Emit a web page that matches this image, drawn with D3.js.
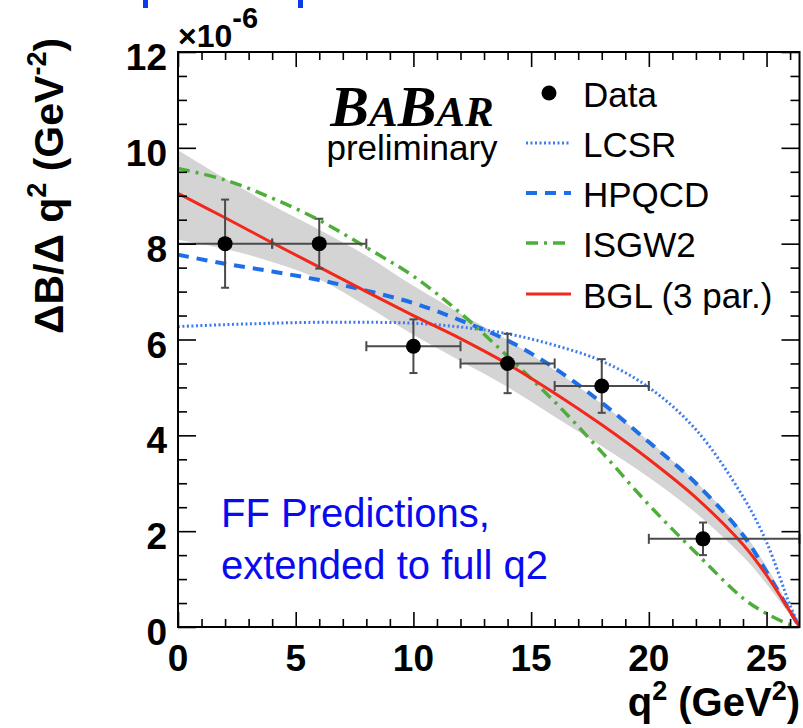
<!DOCTYPE html>
<html>
<head>
<meta charset="utf-8">
<script src="https://cdnjs.cloudflare.com/ajax/libs/d3/7.8.5/d3.min.js"></script>
<style>
  body { margin: 0; background: #fff; }
  svg { display: block; font-family: "Liberation Sans", Arial, Helvetica, sans-serif; }
</style>
</head>
<body>
<svg id="chart" width="803" height="728"></svg>
<script>
// measured data points (q2 bins, dB/dq2 in 1e-6 GeV^-2)
const binLo = [0, 4, 8, 12, 16, 20];
const binHi = [4, 8, 12, 16, 20, 26.4];
const dataQ2 = [2, 6, 10, 14, 18, 22.3];
const dataVal = [8.0, 8.0, 5.86, 5.5, 5.03, 1.84];
const dataErr = [0.92, 0.52, 0.56, 0.62, 0.56, 0.34];

// form factor curves at these q2 values
const q2Grid = [0, 2, 4, 6, 8, 10, 12, 14, 16, 18, 20, 22, 24, 25, 26, 26.4];
const lcsr  = [6.27, 6.31, 6.34, 6.36, 6.36, 6.34, 6.26, 6.12, 5.88, 5.55, 5.0, 4.12, 2.72, 1.77, 0.45, 0];
const hpqcd = [7.77, 7.58, 7.42, 7.24, 7.02, 6.76, 6.4, 5.98, 5.40, 4.68, 3.86, 3.0, 1.92, 1.15, 0.33, 0];
const isgw2 = [9.57, 9.33, 8.95, 8.49, 7.92, 7.32, 6.55, 5.65, 4.70, 3.65, 2.55, 1.55, 0.6, 0.28, 0.05, 0];
const bgl   = [9.05, 8.54, 8.02, 7.51, 7.0, 6.5, 6.02, 5.49, 4.88, 4.22, 3.5, 2.7, 1.72, 1.08, 0.32, 0];
const bglHi = [9.95, 9.36, 8.80, 8.29, 7.75, 7.12, 6.54, 5.99, 5.36, 4.66, 3.88, 3.03, 1.98, 1.26, 0.39, 0];
const bglLo = [8.08, 7.89, 7.62, 7.26, 6.70, 6.10, 5.55, 5.01, 4.39, 3.77, 3.12, 2.38, 1.47, 0.90, 0.25, 0];

const xTicks = [0, 5, 10, 15, 20, 25];
const yTicks = [0, 2, 4, 6, 8, 10, 12];
const legendLabels = ['Data', 'LCSR', 'HPQCD', 'ISGW2', 'BGL (3 par.)'];

const svg = d3.select('#chart');
const plot = { left: 178, right: 799.5, top: 52, bottom: 627 };

const x = d3.scaleLinear().domain([0, 26.4]).range([plot.left, plot.right]);
const y = d3.scaleLinear().domain([0, 12]).range([plot.bottom, plot.top]);

// blue slide fragments at the very top
svg.append('rect').attr('x', 143).attr('y', 0).attr('width', 5).attr('height', 8).attr('fill', '#0a3be8');
svg.append('rect').attr('x', 298).attr('y', 0).attr('width', 5).attr('height', 8).attr('fill', '#0a3be8');

svg.append('defs').append('clipPath').attr('id', 'clip')
  .append('rect')
  .attr('x', plot.left).attr('y', plot.top)
  .attr('width', plot.right - plot.left).attr('height', plot.bottom - plot.top);

const g = svg.append('g').attr('clip-path', 'url(#clip)');
const smooth = d3.curveCatmullRom.alpha(0.5);

// uncertainty band of the BGL fit
const band = q2Grid.map((q, i) => ({ q, lo: bglLo[i], hi: bglHi[i] }));
g.append('path')
  .datum(band)
  .attr('fill', '#d4d4d4')
  .attr('d', d3.area()
    .x(d => x(d.q))
    .y0(d => y(d.lo))
    .y1(d => y(d.hi))
    .curve(smooth));

const line = d3.line().x(d => x(d.q)).y(d => y(d.v)).curve(smooth);
const series = (vals) => q2Grid.map((q, i) => ({ q, v: vals[i] }));

const curves = [
  { vals: lcsr,  color: '#3d7bf0', width: 3,   dash: '2,2.5' },
  { vals: hpqcd, color: '#1d6fe8', width: 4,   dash: '11,8' },
  { vals: isgw2, color: '#4fae3a', width: 3.5, dash: '12,6,3,6' },
  { vals: bgl,   color: '#f2281c', width: 3,   dash: null }
];

curves.forEach(c => {
  g.append('path')
    .datum(series(c.vals))
    .attr('fill', 'none')
    .attr('stroke', c.color)
    .attr('stroke-width', c.width)
    .attr('stroke-dasharray', c.dash)
    .attr('d', line);
});

// data points with error bars
const errColor = '#4a4a4a';
const pts = dataQ2.map((q, i) => ({ q, v: dataVal[i], e: dataErr[i], lo: binLo[i], hi: binHi[i] }));
const pg = svg.append('g');
pts.forEach(d => {
  const cx = x(d.q), cy = y(d.v);
  pg.append('line').attr('x1', x(d.lo)).attr('x2', x(d.hi)).attr('y1', cy).attr('y2', cy)
    .attr('stroke', errColor).attr('stroke-width', 2);
  pg.append('line').attr('x1', cx).attr('x2', cx).attr('y1', y(d.v + d.e)).attr('y2', y(d.v - d.e))
    .attr('stroke', errColor).attr('stroke-width', 2);
  // caps
  [d.lo, d.hi].forEach(v => {
    pg.append('line').attr('x1', x(v)).attr('x2', x(v)).attr('y1', cy - 5).attr('y2', cy + 5)
      .attr('stroke', errColor).attr('stroke-width', 2);
  });
  [d.v + d.e, d.v - d.e].forEach(v => {
    pg.append('line').attr('x1', cx - 4).attr('x2', cx + 4).attr('y1', y(v)).attr('y2', y(v))
      .attr('stroke', errColor).attr('stroke-width', 2);
  });
  pg.append('circle').attr('cx', cx).attr('cy', cy).attr('r', 7.5).attr('fill', '#000');
});

// axes, ticks pointing inward on all four sides
const xMinor = d3.range(0, 27, 1).filter(v => v % 5 !== 0);
const yMinor = d3.range(0, 12.01, 0.5).filter(v => v % 2 !== 0);

function ticks(axis, values, size, transform) {
  const a = svg.append('g')
    .attr('transform', transform)
    .call(axis.tickValues(values).tickSize(-size).tickFormat(''));
  a.select('.domain').remove();
  a.selectAll('line').attr('stroke', '#000').attr('stroke-width', 1.6);
  return a;
}

ticks(d3.axisBottom(x), xTicks, 15, `translate(0,${plot.bottom})`);
ticks(d3.axisBottom(x), xMinor, 8, `translate(0,${plot.bottom})`);
ticks(d3.axisTop(x), xTicks, 15, `translate(0,${plot.top})`);
ticks(d3.axisTop(x), xMinor, 8, `translate(0,${plot.top})`);
ticks(d3.axisLeft(y), yTicks, 18, `translate(${plot.left},0)`);
ticks(d3.axisLeft(y), yMinor, 9, `translate(${plot.left},0)`);
ticks(d3.axisRight(y), yTicks, 18, `translate(${plot.right},0)`);
ticks(d3.axisRight(y), yMinor, 9, `translate(${plot.right},0)`);

svg.append('rect')
  .attr('x', plot.left).attr('y', plot.top)
  .attr('width', plot.right - plot.left).attr('height', plot.bottom - plot.top)
  .attr('fill', 'none').attr('stroke', '#000').attr('stroke-width', 2);

// tick labels
svg.append('g').selectAll('text').data(xTicks).join('text')
  .attr('x', d => x(d)).attr('y', plot.bottom + 44)
  .attr('text-anchor', 'middle')
  .attr('font-size', 37).attr('font-weight', 'bold')
  .text(d => d);

svg.append('g').selectAll('text').data(yTicks).join('text')
  .attr('x', plot.left - 11).attr('y', d => y(d) + 18)
  .attr('text-anchor', 'end')
  .attr('font-size', 37).attr('font-weight', 'bold')
  .text(d => d);

// exponent
const ex = svg.append('text').attr('x', plot.left).attr('y', 47)
  .attr('font-size', 32).attr('font-weight', 'bold');
ex.append('tspan').text('\u00d710');
ex.append('tspan').attr('dy', -19).attr('font-size', 29).text('-6');

// axis titles
const xt = svg.append('text').attr('x', 800).attr('y', 716)
  .attr('text-anchor', 'end').attr('font-size', 40).attr('font-weight', 'bold');
xt.append('tspan').text('q');
xt.append('tspan').attr('dy', -16).attr('font-size', 27).text('2');
xt.append('tspan').attr('dy', 16).text(' (GeV');
xt.append('tspan').attr('dy', -16).attr('font-size', 27).text('2');
xt.append('tspan').attr('dy', 16).text(')');

const yt = svg.append('text')
  .attr('transform', 'translate(63,186) rotate(-90)')
  .attr('text-anchor', 'middle').attr('font-size', 41).attr('font-weight', 'bold');
yt.append('tspan').text('\u0394B/\u0394 q');
yt.append('tspan').attr('dy', -17).attr('font-size', 27).text('2');
yt.append('tspan').attr('dy', 17).text(' (GeV');
yt.append('tspan').attr('dy', -17).attr('font-size', 27).text('-2');
yt.append('tspan').attr('dy', 17).text(')');

// BaBar logo
const logo = svg.append('text').attr('x', 412).attr('y', 126)
  .attr('text-anchor', 'middle')
  .attr('font-family', '"Liberation Serif", "Times New Roman", serif')
  .attr('font-style', 'italic').attr('font-weight', 'bold');
logo.append('tspan').attr('font-size', 58).text('B');
logo.append('tspan').attr('font-size', 43).text('A');
logo.append('tspan').attr('font-size', 58).text('B');
logo.append('tspan').attr('font-size', 43).text('AR');

svg.append('text').attr('x', 412).attr('y', 160)
  .attr('text-anchor', 'middle').attr('font-size', 35)
  .text('preliminary');

// legend
const legY = [93, 143, 193, 243, 294];
const leg = svg.append('g');
legendLabels.forEach((lab, i) => {
  leg.append('text').attr('x', 583).attr('y', legY[i] + 14)
    .attr('font-size', 35).text(lab);
});
leg.append('circle').attr('cx', 549).attr('cy', legY[0]).attr('r', 7.5).attr('fill', '#000');
curves.forEach((c, i) => {
  leg.append('line')
    .attr('x1', 526).attr('x2', 571)
    .attr('y1', legY[i + 1]).attr('y2', legY[i + 1])
    .attr('stroke', c.color).attr('stroke-width', c.width)
    .attr('stroke-dasharray', c.dash);
});

// annotation
const note = svg.append('text').attr('fill', '#0a0af0').attr('font-size', 40);
note.append('tspan').attr('x', 221).attr('y', 527).text('FF Predictions,');
note.append('tspan').attr('x', 221).attr('y', 579).text('extended to full q2');
</script>
</body>
</html>
